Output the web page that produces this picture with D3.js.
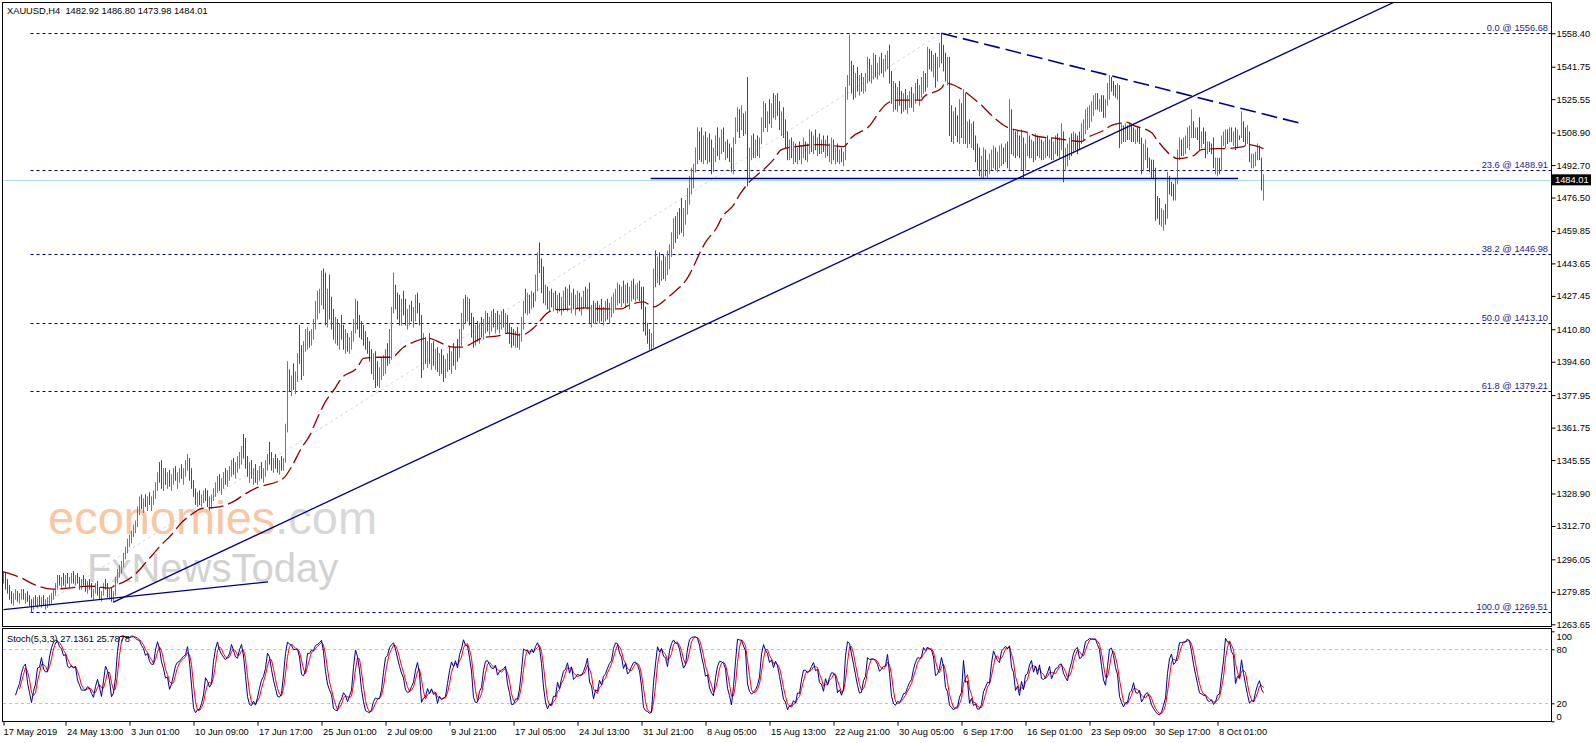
<!DOCTYPE html>
<html><head><meta charset="utf-8">
<script src="https://cdn.jsdelivr.net/npm/d3@7"></script>
<style>
html,body{margin:0;padding:0;background:#fff;}
svg{display:block;font-family:"Liberation Sans",Arial,sans-serif;}
text{white-space:pre;}
</style></head><body>
<svg id="c" width="1596" height="743"></svg>
<script>
// ---- price bars (H4), bar index 0..630 ----
const highs=[
1290,1289,1286,1283,1280,1279,1281,1280,1279,1281,
1281,1279,1280,1278,1276,1277,1278,1277,1278,1277,
1278,1276,1277,1278,1279,1281,1284,1288,1288,1287,
1289,1288,1289,1287,1289,1290,1288,1289,1287,1286,
1288,1286,1285,1286,1284,1281,1284,1285,1282,1280,
1284,1286,1284,1281,1282,1280,1287,1291,1293,1295,
1299,1302,1306,1308,1310,1313,1315,1322,1327,1328,
1326,1328,1327,1329,1327,1330,1334,1339,1344,1345,
1341,1341,1339,1340,1338,1341,1342,1339,1341,1343,
1341,1345,1348,1346,1341,1335,1331,1329,1330,1328,
1330,1331,1330,1327,1328,1331,1334,1337,1338,1336,
1339,1341,1340,1342,1345,1346,1344,1347,1349,1352,
1358,1356,1347,1344,1345,1341,1343,1340,1342,1344,
1341,1345,1348,1354,1349,1346,1348,1346,1345,1347,
1346,1363,1394,1390,1387,1393,1389,1398,1412,1402,
1404,1410,1411,1409,1410,1415,1424,1429,1430,1439,
1440,1438,1430,1437,1426,1420,1416,1415,1413,1417,
1412,1410,1408,1406,1409,1415,1425,1424,1417,1414,
1412,1409,1406,1404,1400,1398,1399,1394,1391,1396,
1397,1400,1403,1410,1421,1438,1432,1428,1427,1425,
1429,1425,1420,1422,1424,1421,1427,1428,1423,1417,
1408,1406,1404,1408,1403,1404,1400,1401,1398,1400,
1397,1395,1398,1401,1399,1403,1401,1405,1410,1418,
1425,1427,1426,1425,1418,1416,1412,1414,1413,1416,
1415,1419,1418,1416,1419,1420,1418,1419,1417,1419,
1420,1418,1417,1413,1411,1410,1409,1411,1408,1416,
1424,1430,1428,1427,1429,1428,1437,1448,1453,1445,
1441,1432,1431,1429,1430,1428,1429,1427,1428,1426,
1429,1431,1430,1432,1428,1430,1427,1429,1428,1426,
1429,1431,1430,1433,1422,1424,1423,1424,1422,1425,
1421,1424,1425,1423,1426,1428,1430,1433,1432,1431,
1434,1432,1433,1431,1434,1435,1432,1433,1434,1431,
1431,1421,1413,1410,1408,1440,1449,1446,1448,1444,
1447,1446,1449,1452,1458,1465,1466,1468,1470,1475,
1470,1474,1480,1486,1490,1492,1500,1510,1508,1510,
1506,1508,1505,1507,1504,1500,1506,1510,1505,1509,
1510,1503,1504,1502,1500,1505,1515,1520,1519,1521,
1517,1518,1535,1500,1506,1507,1504,1506,1505,1515,
1523,1522,1518,1524,1522,1527,1526,1527,1523,1518,
1520,1514,1508,1504,1505,1503,1502,1500,1503,1501,
1505,1503,1502,1509,1508,1506,1509,1505,1507,1504,
1506,1504,1506,1502,1505,1504,1500,1502,1499,1500,
1498,1530,1536,1556,1543,1541,1537,1540,1536,1537,
1535,1537,1545,1544,1541,1547,1546,1542,1545,1547,
1544,1546,1548,1551,1538,1533,1532,1530,1533,1528,
1527,1529,1526,1528,1530,1527,1532,1534,1531,1535,
1538,1537,1550,1549,1548,1546,1547,1545,1552,1556.68,
1551,1547,1545,1545,1521,1518,1520,1516,1524,1522,
1529,1527,1513,1514,1512,1513,1506,1502,1500,1496,
1500,1499,1494,1497,1499,1501,1500,1498,1501,1502,
1500,1502,1503,1524,1519,1509,1508,1509,1506,1509,
1505,1502,1508,1506,1504,1503,1507,1506,1505,1504,
1503,1505,1506,1504,1505,1503,1506,1507,1505,1512,
1508,1500,1502,1505,1507,1508,1507,1506,1508,1512,
1514,1519,1520,1521,1523,1526,1527,1527,1524,1526,
1526,1524,1532,1536,1535,1533,1531,1532,1531,1512,
1511,1512,1511,1512,1511,1510,1509,1510,1510,1505,
1502,1504,1500,1495,1494,1494,1490,1476,1475,1470,
1469,1472,1488,1486,1483,1482,1485,1499,1505,1504,
1505,1506,1510,1511,1519,1513,1510,1510,1515,1508,
1510,1508,1503,1503,1502,1505,1495,1495,1495,1506,
1508,1509,1509,1510,1510,1508,1510,1509,1506,1518,
1513,1510,1511,1508,1497,1497,1498,1502,1501,1495,
1486.80];
const lows=[
1284,1281,1279,1276,1274,1273,1276,1275,1274,1276,
1276,1274,1275,1273,1269.5,1271,1273,1272,1273,1272,
1273,1271,1272,1273,1274,1276,1278,1281,1283,1282,
1283,1282,1284,1282,1284,1284,1283,1284,1281,1281,
1283,1280,1279,1281,1277,1276,1279,1278,1276,1275,
1278,1281,1277,1276,1275,1274.5,1278,1284,1287,1289,
1292,1296,1299,1302,1304,1307,1309,1312,1318,1321,
1319,1322,1320,1323,1320,1323,1326,1330,1334,1331,
1330,1333,1331,1332,1330,1333,1335,1331,1334,1336,
1333,1337,1340,1335,1331,1327,1323,1322,1323,1322,
1324,1325,1322,1320,1321,1325,1327,1329,1330,1328,
1331,1333,1332,1335,1337,1338,1336,1339,1341,1343,
1346,1341,1337,1334,1336,1333,1334,1333,1335,1336,
1334,1337,1340,1343,1340,1339,1341,1339,1338,1340,
1340,1344,1359,1379,1377,1380,1378,1384,1393,1385,
1387,1399,1400,1401,1402,1405,1410,1415,1418,1422,
1420,1412,1411,1415,1410,1405,1403,1402,1400,1405,
1400,1398,1399,1398,1400,1404,1408,1410,1406,1405,
1402,1400,1398,1394,1388,1385,1381,1382,1381,1385,
1387,1388,1392,1393,1395,1418,1420,1415,1412,1412,
1417,1412,1410,1412,1414,1411,1414,1418,1412,1386,
1390,1393,1391,1393,1390,1392,1390,1389,1387,1388,
1384,1386,1389,1390,1388,1392,1390,1394,1396,1402,
1410,1413,1414,1412,1406,1401,1402,1404,1403,1406,
1405,1408,1409,1407,1409,1411,1408,1410,1408,1410,
1411,1408,1408,1403,1401,1402,1401,1401,1400,1404,
1410,1418,1417,1418,1420,1421,1424,1429,1438,1428,
1423,1422,1420,1419,1421,1419,1420,1418,1419,1417,
1419,1420,1419,1422,1418,1420,1417,1420,1419,1417,
1420,1421,1420,1413,1411,1413,1413,1414,1413,1414,
1412,1414,1415,1413,1416,1418,1420,1422,1423,1421,
1423,1421,1423,1420,1424,1425,1424,1425,1424,1420,
1409,1407,1403,1400,1399.5,1401,1431,1433,1432,1434,
1435,1434,1437,1440,1446,1450,1453,1455,1457,1458,
1456,1462,1467,1472,1477,1480,1488,1492,1494,1493,
1492,1494,1492,1493,1487,1488,1493,1496,1494,1497,
1498,1494,1495,1493,1488,1487,1502,1508,1505,1509,
1506,1507,1481,1485,1494,1495,1495,1496,1495,1502,
1508,1510,1508,1512,1510,1515,1514,1516,1509,1506,
1505,1500,1494,1494,1495,1492,1493,1492,1494,1492,
1495,1494,1493,1497,1498,1497,1499,1496,1497,1497,
1498,1495,1496,1493,1492,1494,1492,1493,1492,1493,
1491,1494,1524,1531,1527,1524,1525,1528,1526,1528,
1527,1528,1532,1533,1532,1534,1535,1534,1536,1537,
1535,1538,1539,1532,1522,1518,1519,1518,1521,1517,
1518,1519,1517,1520,1520,1518,1522,1524,1521,1525,
1527,1528,1530,1539,1538,1535,1530,1533,1540,1542,
1538,1533,1531,1506,1503,1502,1506,1503,1502,1505,
1502,1502,1500,1502,1500,1499,1493,1489,1486,1485,
1485,1486,1485,1487,1489,1490,1489,1488,1490,1491,
1492,1493,1490,1489,1497,1496,1495,1496,1495,1489,
1485,1489,1496,1495,1495,1493,1494,1496,1495,1494,
1494,1495,1496,1495,1494,1494,1497,1496,1495,1499,
1483,1489,1491,1494,1496,1498,1499,1497,1499,1502,
1504,1507,1509,1510,1513,1516,1519,1519,1518,1518,
1515,1515,1521,1524,1528,1526,1525,1524,1500,1502,
1503,1503,1504,1504,1503,1503,1502,1503,1502,1487,
1489,1494,1490,1488,1485,1485,1464,1465,1462,1461,
1459,1462,1465,1477,1476,1474,1474,1482,1494,1496,
1496,1497,1500,1499,1505,1505,1505,1504,1499,1500,
1502,1495,1497,1498,1497,1490,1487,1486,1487,1489,
1501,1500,1502,1503,1503,1501,1499,1500,1504,1505,
1503,1501,1502,1493,1490,1490,1491,1494,1494,1479,
1473.98];
const closes=[
1288,1282,1280,1277,1276,1278,1279,1276,1277,1280,
1277,1278,1276,1274,1272,1276,1274,1276,1275,1276,
1274,1275,1276,1277,1278,1280,1283,1286,1284,1286,
1285,1287,1285,1286,1288,1285,1287,1285,1283,1285,
1284,1282,1284,1282,1278,1280,1283,1279,1277,1279,
1283,1282,1278,1280,1276,1279,1286,1290,1292,1294,
1298,1300,1305,1307,1309,1312,1313,1320,1325,1322,
1324,1323,1326,1324,1325,1328,1333,1337,1336,1333,
1338,1335,1337,1334,1336,1339,1336,1338,1340,1338,
1340,1343,1346,1337,1333,1329,1325,1327,1324,1326,
1328,1327,1323,1325,1327,1330,1332,1335,1332,1334,
1337,1335,1338,1341,1343,1340,1342,1345,1347,1350,
1348,1342,1339,1341,1337,1339,1335,1338,1340,1337,
1339,1343,1346,1345,1342,1344,1343,1341,1343,1342,
1345,1361,1388,1383,1385,1382,1387,1396,1395,1388,
1402,1404,1408,1403,1407,1413,1420,1425,1428,1436,
1424,1418,1427,1419,1412,1408,1410,1404,1411,1407,
1402,1405,1401,1404,1407,1413,1420,1412,1409,1407,
1405,1402,1400,1396,1392,1394,1387,1384,1389,1391,
1393,1398,1395,1408,1419,1428,1424,1420,1418,1423,
1421,1414,1417,1419,1416,1418,1425,1420,1414,1390,
1405,1397,1400,1395,1398,1393,1396,1391,1394,1391,
1386,1392,1395,1393,1397,1395,1399,1397,1408,1415,
1422,1418,1423,1414,1410,1404,1409,1406,1410,1408,
1412,1416,1411,1413,1415,1413,1416,1412,1415,1417,
1413,1416,1410,1406,1405,1404,1407,1403,1406,1414,
1421,1420,1425,1423,1427,1426,1435,1446,1442,1432,
1426,1428,1424,1426,1423,1425,1422,1425,1421,1424,
1427,1422,1428,1424,1426,1423,1425,1427,1421,1424,
1427,1424,1428,1416,1419,1416,1421,1418,1420,1416,
1419,1422,1418,1421,1424,1426,1428,1430,1425,1429,
1427,1430,1426,1428,1432,1428,1429,1431,1427,1422,
1412,1410,1406,1402,1404,1437,1435,1442,1436,1441,
1438,1443,1445,1450,1456,1462,1460,1465,1463,1461,
1467,1472,1478,1484,1488,1490,1498,1506,1500,1496,
1502,1497,1503,1496,1490,1497,1504,1499,1502,1506,
1500,1501,1498,1496,1491,1503,1513,1517,1516,1518,
1514,1516,1495,1497,1500,1498,1502,1499,1503,1513,
1520,1512,1516,1515,1519,1518,1523,1519,1512,1515,
1508,1503,1498,1501,1497,1499,1495,1498,1496,1499,
1502,1496,1499,1505,1501,1504,1501,1503,1499,1502,
1500,1503,1498,1500,1503,1496,1498,1495,1497,1495,
1496,1528,1533,1541,1530,1527,1534,1531,1533,1530,
1533,1535,1543,1536,1539,1545,1538,1540,1543,1540,
1542,1544,1546,1535,1525,1528,1522,1526,1524,1520,
1524,1522,1523,1525,1522,1526,1530,1527,1529,1533,
1536,1531,1548,1545,1541,1544,1533,1543,1550,1545,
1541,1536,1542,1510,1507,1512,1509,1506,1520,1508,
1526,1505,1510,1504,1508,1502,1497,1492,1489,1494,
1498,1488,1492,1495,1497,1499,1493,1496,1499,1500,
1498,1501,1500,1518,1500,1506,1497,1505,1498,1505,
1490,1499,1504,1497,1502,1496,1504,1500,1502,1497,
1500,1503,1499,1502,1498,1501,1504,1499,1503,1508,
1492,1497,1499,1503,1501,1506,1505,1504,1502,1510,
1512,1517,1518,1520,1521,1524,1526,1522,1523,1520,
1518,1522,1530,1533,1530,1528,1527,1530,1505,1506,
1505,1509,1506,1510,1506,1504,1507,1505,1504,1491,
1495,1496,1492,1490,1488,1487,1467,1466,1464,1467,
1468,1465,1485,1479,1478,1476,1483,1497,1502,1499,
1503,1504,1508,1509,1511,1507,1508,1506,1502,1506,
1504,1498,1500,1499,1498,1492,1493,1494,1489,1504,
1506,1508,1504,1508,1505,1506,1501,1507,1505,1513,
1505,1503,1508,1495,1496,1497,1498,1499,1496,1482.92,
1484.01];
const firstOpen=1286;

// ---- moving average (bar index, value) ----
const maIdx=[0,9,16,25,32,43,53,56,60,67,71,79,84,89,94,99,106,116,119,126,129,140,144,149,153,157,161,166,169,177,180,187,194,200,205,212,225,229,237,239,249,252,259,265,272,275,285,290,300,309,312,320,325,332,335,343,345,349,351,357,359,365,368,374,377,385,389,396,409,420,424,434,436,442,447,459,460,469,471,479,483,490,494,502,505,512,517,527,530,539,542,550,554,562,565,574,577,584,587,595,599,607,610,620,622,630];
const maVals=[1289.5,1286.5,1283,1281,1281.5,1282.5,1281.5,1283,1284.5,1289.5,1294,1303,1308,1314,1318,1321,1321.5,1325,1327,1331,1332,1336,1341.7,1351,1357,1366,1374,1381,1385.5,1391,1395.5,1396,1396,1401,1403.5,1405.5,1401,1401,1404.5,1405.5,1407,1408,1407,1410.5,1418,1419.5,1420,1420.5,1420,1420,1421.5,1423.5,1421,1425.5,1428,1437,1441,1449.5,1453,1461,1465,1471.5,1476.5,1484,1486.5,1494,1499,1500.5,1501.5,1500.5,1505,1512,1515,1522,1523.5,1523.5,1525,1529.5,1532,1529,1526,1520,1516,1510,1509,1507.5,1505.5,1504.5,1504,1503,1505,1508.5,1511,1512.5,1511,1507.5,1503.5,1496,1494.5,1496,1499,1499.5,1499.5,1500.5,1501.5,1499.5];

// ---- Fibonacci retracement ----
const fibRatios=["0.0","23.6","38.2","50.0","61.8","100.0"];
const fibPrices=[1556.68,1488.91,1446.98,1413.10,1379.21,1269.51];
const fibAnchorIdx=[14,469];
const fibAnchorPrice=[1269.51,1556.68];

// ---- drawn lines ----
const upTrendIdx=[55,324], upTrendPrice=[1274.6,1399.6];
const flatTrendIdx=[0,132.3], flatTrendPrice=[1270.8,1284.6];
const downTrendIdx=[469,553], downTrendPrice=[1556.68,1535.8], downTrendEnd=649;
const supportIdx=[323.6,617.3], supportPrice=1484.7;
const lastPrice=1484.01;

// ---- axes ----
const priceTicks=[1558.40,1541.75,1525.55,1508.90,1492.70,1476.50,1459.85,1443.65,1427.45,1410.80,1394.60,1377.95,1361.75,1345.55,1328.90,1312.70,1296.05,1279.85,1263.65];
const dateLabels=["17 May 2019","24 May 13:00","3 Jun 01:00","10 Jun 09:00","17 Jun 17:00","25 Jun 01:00","2 Jul 09:00","9 Jul 21:00","17 Jul 05:00","24 Jul 13:00","31 Jul 21:00","8 Aug 05:00","15 Aug 13:00","22 Aug 21:00","30 Aug 05:00","6 Sep 17:00","16 Sep 01:00","23 Sep 09:00","30 Sep 17:00","8 Oct 01:00"];
const dateIdx=[0,31,63,95,127,159,191,223,255,287,319,351,383,415,447,479,511,543,575,607];
const stochLevels=[20,80];
const stochTicks=[100,80,20,0];
const titleText="XAUUSD,H4  1482.92 1486.80 1473.98 1484.01";
const stochText="Stoch(5,3,3) 27.1361 25.7878";

// ================= drawing =================
const svg=d3.select("#c");
const FS=9.3;
const L=3, R=1551, T=3, MB=627, ST=629, SB=722;

const x=d3.scaleLinear().domain([0,630]).range([3.5,1263.5]);
const y=d3.scaleLinear().domain([1269.51,1556.68]).range([612.3,33.3]);
const yLab=d3.scaleLinear().domain([1263.65,1558.40]).range([624.3,33.3]);
const ys=d3.scaleLinear().domain([0,100]).range([721.3,631.3]);

const defs=svg.append("defs");
defs.append("clipPath").attr("id","cm").append("rect").attr("x",L).attr("y",T).attr("width",R-L).attr("height",MB-T);
defs.append("clipPath").attr("id","cs").append("rect").attr("x",L).attr("y",ST).attr("width",R-L).attr("height",SB-ST);

const gm=svg.append("g").attr("clip-path","url(#cm)");

// watermark
const t1=gm.append("text").attr("x",48).attr("y",534).attr("font-size",47);
t1.append("tspan").attr("fill","#f9c6a2").text("economies");
t1.append("tspan").attr("fill","#d8d8d8").text(".com");
gm.append("text").attr("x",87).attr("y",582).attr("font-size",40).attr("fill","#d2d2d2").text("FxNewsToday");

// fib base dotted line
gm.append("line").attr("x1",x(fibAnchorIdx[0])).attr("y1",y(fibAnchorPrice[0])).attr("x2",x(fibAnchorIdx[1])).attr("y2",y(fibAnchorPrice[1]))
  .attr("stroke","#d4d4f4").attr("stroke-width",1).attr("stroke-dasharray","3,3");

// fib levels
fibPrices.forEach((p,i)=>{
  const yy=Math.round(y(p))+0.5;
  gm.append("line").attr("x1",x(fibAnchorIdx[0])-1).attr("x2",R).attr("y1",yy).attr("y2",yy)
    .attr("stroke","#000080").attr("stroke-width",1).attr("stroke-dasharray","3,3");
  gm.append("text").attr("x",1548).attr("y",yy-3).attr("text-anchor","end").attr("font-size",FS).attr("fill","#23238e")
    .text(fibRatios[i]+" @ "+p.toFixed(2));
});

// bid line
gm.append("line").attr("x1",L).attr("x2",R).attr("y1",Math.round(y(lastPrice))+0.5).attr("y2",Math.round(y(lastPrice))+0.5)
  .attr("stroke","#b0e0e6").attr("stroke-width",1);

// bars
const bars=highs.map((h,i)=>({i,h,l:lows[i],c:closes[i],o:i?closes[i-1]:firstOpen}));
gm.append("g").selectAll("line").data(bars).join("line")
  .attr("x1",d=>x(d.i)).attr("x2",d=>x(d.i)).attr("y1",d=>y(d.h)).attr("y2",d=>y(d.l)+0.5)
  .attr("stroke",d=>d.c>=d.o?"#4682b4":"#ff0000").attr("stroke-width",1);

// moving average
const maLine=d3.line().x(d=>x(d[0])).y(d=>y(d[1])).curve(d3.curveMonotoneX);
gm.append("path").datum(maIdx.map((j,i)=>[j,maVals[i]])).attr("d",maLine)
  .attr("fill","none").attr("stroke","#8b0000").attr("stroke-width",1.3).attr("stroke-dasharray","15,5");

// trend lines
function extLine(ix,ip,endIdx){
  const s=(ip[1]-ip[0])/(ix[1]-ix[0]);
  return [[ix[0],ip[0]],[endIdx,ip[0]+s*(endIdx-ix[0])]];
}
const ln=d3.line().x(d=>x(d[0])).y(d=>y(d[1]));
gm.append("path").datum(extLine(upTrendIdx,upTrendPrice,760)).attr("d",ln).attr("fill","none").attr("stroke","#000080").attr("stroke-width",1.3);
gm.append("path").datum([[flatTrendIdx[0],flatTrendPrice[0]],[flatTrendIdx[1],flatTrendPrice[1]]]).attr("d",ln).attr("fill","none").attr("stroke","#000080").attr("stroke-width",1.3);
gm.append("path").datum(extLine(downTrendIdx,downTrendPrice,downTrendEnd)).attr("d",ln).attr("fill","none").attr("stroke","#000080").attr("stroke-width",1.6).attr("stroke-dasharray","16,6");
gm.append("line").attr("x1",x(supportIdx[0])).attr("x2",x(supportIdx[1])).attr("y1",y(supportPrice)).attr("y2",y(supportPrice))
  .attr("stroke","#000080").attr("stroke-width",1.6);

// title
svg.append("text").attr("x",7).attr("y",14).attr("font-size",FS).attr("fill","#000").text(titleText);

// ---- stochastic (computed from the bars) ----
const K=5,SL=3,D=3;
const mainK=bars.map(()=>null), sigD=bars.map(()=>null);
for(let i=K-1+SL-1;i<bars.length;i++){
  let num=0,den=0;
  for(let m=i-SL+1;m<=i;m++){
    const hh=d3.max(highs.slice(m-K+1,m+1)), ll=d3.min(lows.slice(m-K+1,m+1));
    num+=closes[m]-ll; den+=hh-ll;
  }
  mainK[i]=den?100*num/den:100;
}
for(let i=0;i<bars.length;i++){
  if(i>=2&&mainK[i]!=null&&mainK[i-1]!=null&&mainK[i-2]!=null) sigD[i]=(mainK[i]+mainK[i-1]+mainK[i-2])/3;
}
const gs=svg.append("g").attr("clip-path","url(#cs)");
stochLevels.forEach(v=>{
  gs.append("line").attr("x1",L).attr("x2",R).attr("y1",Math.round(ys(v))+0.5).attr("y2",Math.round(ys(v))+0.5)
    .attr("stroke","#c0c0c0").attr("stroke-dasharray","3,3");
});
const sl=d3.line().defined(d=>d[1]!=null).x(d=>x(d[0])).y(d=>ys(d[1]));
gs.append("path").datum(sigD.map((v,i)=>[i,v])).attr("d",sl).attr("fill","none").attr("stroke","#ff0000").attr("stroke-width",1);
gs.append("path").datum(mainK.map((v,i)=>[i,v])).attr("d",sl).attr("fill","none").attr("stroke","#000090").attr("stroke-width",1);
svg.append("text").attr("x",7).attr("y",642).attr("font-size",FS).attr("fill","#000").text(stochText);

// frames
svg.append("rect").attr("x",L-0.5).attr("y",T-0.5).attr("width",R-L+1).attr("height",MB-T).attr("fill","none").attr("stroke","#000");
svg.append("rect").attr("x",L-0.5).attr("y",ST-0.5).attr("width",R-L+1).attr("height",SB-ST).attr("fill","none").attr("stroke","#000");

// right price axis
const ay=svg.append("g").attr("transform",`translate(${R+0.5},0)`)
  .call(d3.axisRight(yLab).tickValues(priceTicks).tickFormat(d3.format(".2f")).tickSize(4).tickPadding(1));
ay.select(".domain").remove();
ay.selectAll("text").attr("font-size",FS).attr("font-family","'Liberation Sans',Arial,sans-serif").attr("fill","#000");
ay.selectAll("line").attr("stroke","#000");

// last price box
const ly=y(lastPrice);
svg.append("rect").attr("x",R+1).attr("y",ly-5.5).attr("width",39).attr("height",11).attr("fill","#000");
svg.append("text").attr("x",R+4).attr("y",ly).attr("dy","0.34em").attr("font-size",FS).attr("fill","#fff").text(lastPrice.toFixed(2));

// stoch axis
const as=svg.append("g").attr("transform",`translate(${R+0.5},0)`)
  .call(d3.axisRight(ys).tickValues(stochTicks).tickSize(3).tickPadding(2));
as.select(".domain").remove();
as.selectAll("text").attr("font-size",FS).attr("font-family","'Liberation Sans',Arial,sans-serif").attr("fill","#000")
  .attr("dy",d=>d===100?"0.85em":d===0?"-0.2em":"0.32em");
as.selectAll("line").attr("stroke","#000");

// date axis
const ax=svg.append("g").attr("transform",`translate(0,${SB-0.5})`)
  .call(d3.axisBottom(x).tickValues(dateIdx).tickFormat((d,i)=>dateLabels[i]).tickSize(4).tickPadding(3));
ax.select(".domain").remove();
ax.selectAll("text").attr("font-size",FS).attr("font-family","'Liberation Sans',Arial,sans-serif").attr("fill","#000")
  .attr("text-anchor","start").attr("x",(d,i)=>i===0?-0.5:1);
ax.selectAll("line").attr("stroke","#000");
</script>
</body></html>
